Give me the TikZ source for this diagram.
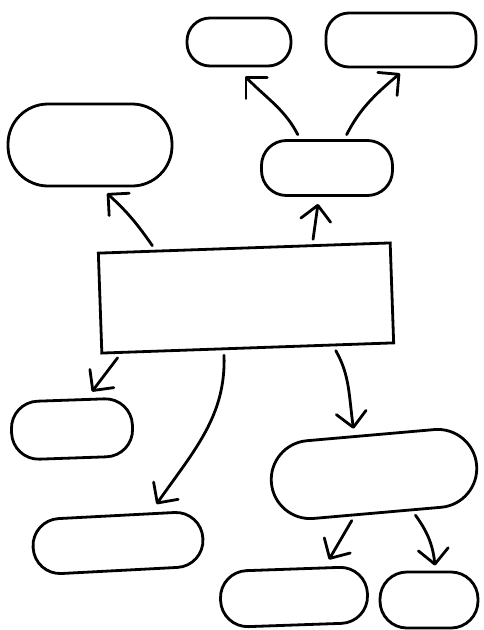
\documentclass[tikz,border=0pt]{standalone}
\usetikzlibrary{arrows.meta}
\tikzset{
    >={Straight Barb[length=15pt,width=30pt,round]},
    bubble/.style={draw,line width=2.8pt,rounded corners=#1,inner sep=0pt},
    bubble/.default=23pt,
    box/.style={draw,line width=2.8pt,inner sep=0pt,minimum width=292pt,minimum height=100pt,rotate=2},
    link/.style={->,line width=2.8pt,line cap=round,shorten <=5pt}
}
\begin{document}
\begin{tikzpicture}[x=1pt,y=-1pt]
  \useasboundingbox (0,0) rectangle (484,630);

  \node[box] (c) at (246,298) {};
  \node[bubble,minimum width=104pt,minimum height=48pt] (ta) at (239,42) {};
  \node[bubble,minimum width=150pt,minimum height=54pt] (tb) at (401,40) {};
  \node[bubble=40pt,minimum width=164pt,minimum height=82pt] (lu) at (90,145) {};
  \node[bubble=25pt,minimum width=131pt,minimum height=55pt] (mr) at (327,168) {};
  \node[bubble=27pt,minimum width=121pt,minimum height=58pt,rotate=2] (ls) at (72,429) {};
  \node[bubble=39pt,minimum width=206pt,minimum height=78pt,rotate=5] (rb) at (374,474) {};
  \node[bubble=27pt,minimum width=170pt,minimum height=55pt,rotate=3] (ll) at (118,543) {};
  \node[bubble=27pt,minimum width=147pt,minimum height=56pt,rotate=2] (b1) at (294,597) {};
  \node[bubble=27pt,minimum width=98pt,minimum height=56pt] (b2) at (429,600) {};

  \draw[link] (c.150) to[out=125,in=-42] ([shift={(17,6)}]lu.south);
  \draw[link] (c.37) -- ([shift={(-9,7)}]mr.south);
  \draw[link] (mr.133) to[out=117,in=-45] ([shift={(6,9)}]ta.south);
  \draw[link] (mr.59) to[out=63,in=-140] ([shift={(-1,5)}]tb.south);
  \draw[link] (c.-158) -- ([shift={(21,-7)}]ls.north);
  \draw[link] (c.-115) to[out=-88,in=55] ([shift={(40,-10)}]ll.north);
  \draw[link] (c.-31) to[out=-60,in=98] ([shift={(-17,-5)}]rb.north);
  \draw[link] (rb.-120) -- ([shift={(36,-8)}]b1.north);
  \draw[link] (rb.-49) to[out=-54,in=96] ([shift={(6,-5)}]b2.north);
\end{tikzpicture}
\end{document}
